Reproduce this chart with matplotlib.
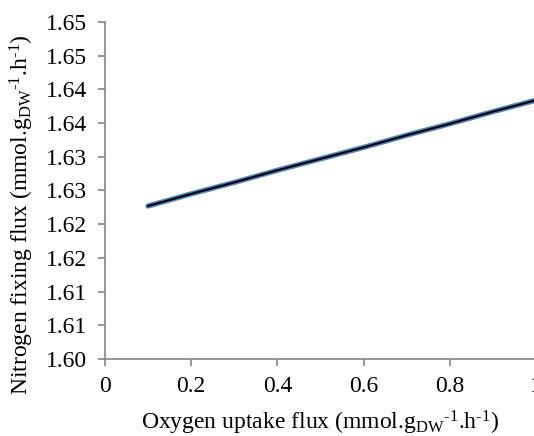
import numpy as np
import matplotlib
matplotlib.use("Agg")
import matplotlib.pyplot as plt
from matplotlib.ticker import FuncFormatter, MultipleLocator

# values
oxygen_uptake = [0.1, 0.2, 0.3, 0.4, 0.5, 0.6, 0.7, 0.8, 0.9, 1.0]
nitrogen_fixing = [1.6227, 1.6245, 1.6262, 1.6280, 1.6297,
                   1.6314, 1.6332, 1.6349, 1.6367, 1.6384]

plt.rcParams['font.family'] = ['Liberation Serif', 'DejaVu Serif']
plt.rcParams['mathtext.fontset'] = 'custom'
plt.rcParams['mathtext.rm'] = 'Liberation Serif'
plt.rcParams['mathtext.it'] = 'Liberation Serif:italic'

grey = '#868686'

fig = plt.figure(figsize=(5.34, 4.36), dpi=100)
ax = fig.add_axes([105 / 534, 77 / 436, 431 / 534, 337 / 436])

ax.plot(oxygen_uptake, nitrogen_fixing, color='#4F81BD', lw=3.8,
        solid_capstyle='round')
ax.plot(oxygen_uptake, nitrogen_fixing, color='black', lw=1.5)

ax.set_xlim(0, 1.0)
ax.set_ylim(1.600, 1.650)
ax.xaxis.set_major_locator(MultipleLocator(0.2))
ax.yaxis.set_major_locator(MultipleLocator(0.005))
ax.xaxis.set_major_formatter(FuncFormatter(lambda v, p: f"{v:g}"))
ax.yaxis.set_major_formatter(
    FuncFormatter(lambda v, p: f"{np.floor(v * 100 + 0.5 + 1e-9) / 100:.2f}"))

for s in ['top', 'right']:
    ax.spines[s].set_visible(False)
for s in ['left', 'bottom']:
    ax.spines[s].set_color(grey)
    ax.spines[s].set_linewidth(1.2)
ax.tick_params(axis='both', colors=grey, labelcolor='black', labelsize=17,
               length=5, width=1.2, direction='out')
ax.tick_params(axis='x', pad=7)
ax.tick_params(axis='y', pad=8)

hy = '\u2010'
ax.set_xlabel(r'Oxygen uptake flux (mmol.g$_{\mathrm{DW}}$$^{\mathrm{' + hy + r'1}}$.h$^{\mathrm{' + hy + r'1}}$)',
              fontsize=17)
ax.set_ylabel(r'Nitrogen fixing flux (mmol.g$_{\mathrm{DW}}$$^{\mathrm{' + hy + r'1}}$.h$^{\mathrm{' + hy + r'1}}$)',
              fontsize=17)
ax.xaxis.set_label_coords(0.5, -0.148)
ax.yaxis.set_label_coords(-0.16, 0.43)

fig.savefig('out.png', dpi=100)
